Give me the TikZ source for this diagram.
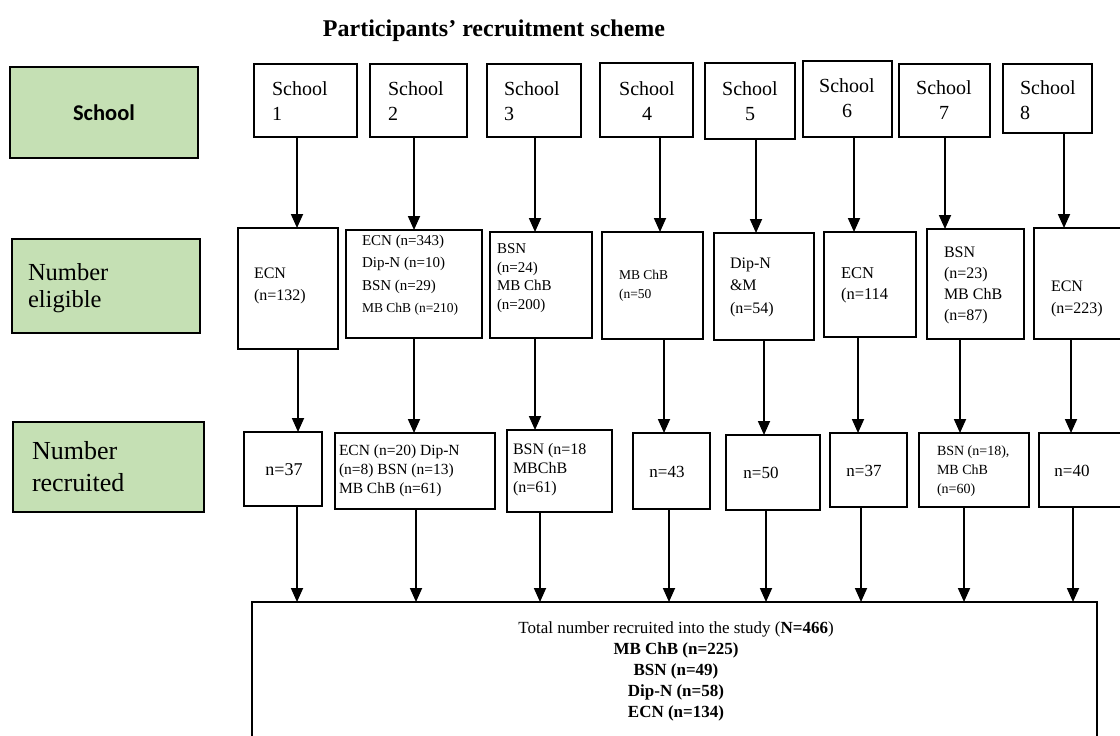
\documentclass[tikz,border=0pt]{standalone}
\usepackage{fontspec}
\setmainfont{Liberation Serif}
\newfontfamily\calibrifont{Carlito}
\usetikzlibrary{arrows.meta}
\newcommand\fsz[2]{\fontsize{#1}{#2}\selectfont}
\definecolor{lgreen}{HTML}{C5E0B4}
\begin{document}
\begin{tikzpicture}[x=1pt,y=-1pt,
  box/.style={draw=black, line width=2pt, fill=white, inner sep=0pt, outer sep=0pt, anchor=north west},
  gbox/.style={box, fill=lgreen},
  txt/.style={inner sep=0pt, outer sep=0pt, align=left, anchor=west},
  ctxt/.style={inner sep=0pt, outer sep=0pt, align=center},
  arr/.style={line width=1.8pt, -{Triangle[length=14pt,width=12pt]}}
]
\useasboundingbox (0,0) rectangle (1120,736);
\clip (0,0) rectangle (1120,736);
\fill[white] (0,0) rectangle (1120,736);

% title
\node[ctxt, font=\bfseries\fsz{24}{28}] (title) at (494,31) {Participants’ recruitment scheme};

% green row labels
\node[gbox, minimum width=188pt, minimum height=91pt] (g1) at (10,67) {};
\node[ctxt, font=\calibrifont\bfseries\fsz{22.5}{26}] (g1t) at (g1.center) {School};
\node[gbox, minimum width=188pt, minimum height=94pt] (g2) at (12,239) {};
\node[txt, font=\fsz{24.5}{27}] (g2t) at (28,288) {Number\\eligible};
\node[gbox, minimum width=191pt, minimum height=90pt] (g3) at (13,422) {};
\node[txt, font=\fsz{26}{32}] (g3t) at (32,467) {Number\\recruited};

% schools
\node[box, minimum width=103pt, minimum height=73pt] (s1) at (254,64) {};
\node[txt, font=\fsz{20}{25}] (s1t) at (272,101) {School\\1};
\node[box, minimum width=97pt, minimum height=73pt] (s2) at (370,64) {};
\node[txt, font=\fsz{20}{25}] (s2t) at (388,101) {School\\2};
\node[box, minimum width=94pt, minimum height=73pt] (s3) at (487,64) {};
\node[txt, font=\fsz{20}{25}] (s3t) at (504,101) {School\\3};
\node[box, minimum width=93pt, minimum height=74pt] (s4) at (600,63) {};
\node[ctxt, font=\fsz{20}{25}] (s4t) at (647,101) {School\\4};
\node[box, minimum width=90pt, minimum height=76pt] (s5) at (705,63) {};
\node[ctxt, font=\fsz{20}{25}] (s5t) at (750,101) {School\\5};
\node[box, minimum width=89pt, minimum height=76pt] (s6) at (803,61) {};
\node[ctxt, font=\fsz{20}{25}] (s6t) at (847,98) {School\\6};
\node[box, minimum width=91pt, minimum height=73pt] (s7) at (899,64) {};
\node[ctxt, font=\fsz{20}{25}] (s7t) at (944,100) {School\\7};
\node[box, minimum width=89pt, minimum height=69pt] (s8) at (1003,64) {};
\node[txt, font=\fsz{20}{25}] (s8t) at (1020,100) {School\\8};

% eligible
\node[box, minimum width=100pt, minimum height=121pt] (e1) at (238,228) {};
\node[txt, font=\fsz{16}{22}] (e1t) at (254,286) {ECN\\(n=132)};
\node[box, minimum width=136pt, minimum height=108pt] (e2) at (346,230) {};
\node[txt, font=\fsz{15}{22.5}] (e2t) at (362,275) {ECN (n=343)\\Dip-N (n=10)\\BSN (n=29)\\{\fsz{13.5}{22.5}MB ChB (n=210)}};
\node[box, minimum width=102pt, minimum height=106pt] (e3) at (490,232) {};
\node[txt, font=\fsz{15}{18.5}] (e3t) at (497,278) {BSN\\(n=24)\\MB ChB\\(n=200)};
\node[box, minimum width=101pt, minimum height=107pt] (e4) at (602,232) {};
\node[txt, font=\fsz{13.5}{19}] (e4t) at (619,286) {MB ChB\\(n=50};
\node[box, minimum width=100pt, minimum height=107pt] (e5) at (714,233) {};
\node[txt, font=\fsz{16}{22.5}] (e5t) at (730,287) {Dip-N\\\&M\\(n=54)};
\node[box, minimum width=92pt, minimum height=105pt] (e6) at (824,232) {};
\node[txt, font=\fsz{16.5}{21}] (e6t) at (841,285) {ECN\\(n=114};
\node[box, minimum width=97pt, minimum height=110pt] (e7) at (927,229) {};
\node[txt, font=\fsz{16}{21}] (e7t) at (944,285) {BSN\\(n=23)\\MB ChB\\(n=87)};
\node[box, minimum width=100pt, minimum height=111pt] (e8) at (1034,228) {};
\node[txt, font=\fsz{16}{22}] (e8t) at (1051,299) {ECN\\(n=223)};

% recruited
\node[box, minimum width=78pt, minimum height=74pt] (r1) at (244,432) {};
\node[ctxt, font=\fsz{18}{22}] (r1t) at (284,470) {n=37};
\node[box, minimum width=160pt, minimum height=76pt] (r2) at (335,433) {};
\node[txt, font=\fsz{15.5}{19}] (r2t) at (339,471) {ECN (n=20) Dip-N\\(n=8) BSN (n=13)\\MB ChB (n=61)};
\node[box, minimum width=105pt, minimum height=82pt] (r3) at (507,430) {};
\node[txt, font=\fsz{16}{19}] (r3t) at (513,470) {BSN (n=18\\MBChB\\(n=61)};
\node[box, minimum width=77pt, minimum height=76pt] (r4) at (633,433) {};
\node[ctxt, font=\fsz{17}{21}] (r4t) at (667,472) {n=43};
\node[box, minimum width=94pt, minimum height=75pt] (r5) at (726,435) {};
\node[ctxt, font=\fsz{17}{21}] (r5t) at (761,473) {n=50};
\node[box, minimum width=77pt, minimum height=74pt] (r6) at (830,433) {};
\node[ctxt, font=\fsz{17}{21}] (r6t) at (864,471) {n=37};
\node[box, minimum width=110pt, minimum height=74pt] (r7) at (919,433) {};
\node[txt, font=\fsz{14}{19}] (r7t) at (937,471) {BSN (n=18),\\MB ChB\\(n=60)};
\node[box, minimum width=100pt, minimum height=74pt] (r8) at (1039,433) {};
\node[ctxt, font=\fsz{17}{21}] (r8t) at (1072,471) {n=40};

% total
\node[box, minimum width=845pt, minimum height=160pt] (tot) at (252,602) {};
\node[ctxt, font=\fsz{17}{21}] (tott) at (676,671) {Total number recruited into the study (\textbf{N=466})\\\textbf{MB ChB (n=225)}\\\textbf{BSN (n=49)}\\\textbf{Dip-N (n=58)}\\\textbf{ECN (n=134)}};

% connectors
\foreach \i/\xa/\xb/\xc in {1/297/298/297, 2/414/414/416, 3/535/535/540, 4/660/664/669, 5/756/764/766, 6/854/858/861, 7/945/960/964, 8/1064/1071/1073}{
  \coordinate (pa\i) at (\xa,0);
  \coordinate (pb\i) at (\xb,0);
  \coordinate (pc\i) at (\xc,0);
  \draw[arr] (s\i.south -| pa\i) -- (e\i.north -| pa\i);
  \draw[arr] (e\i.south -| pb\i) -- (r\i.north -| pb\i);
  \draw[arr] (r\i.south -| pc\i) -- (tot.north -| pc\i);
}
\end{tikzpicture}
\end{document}
